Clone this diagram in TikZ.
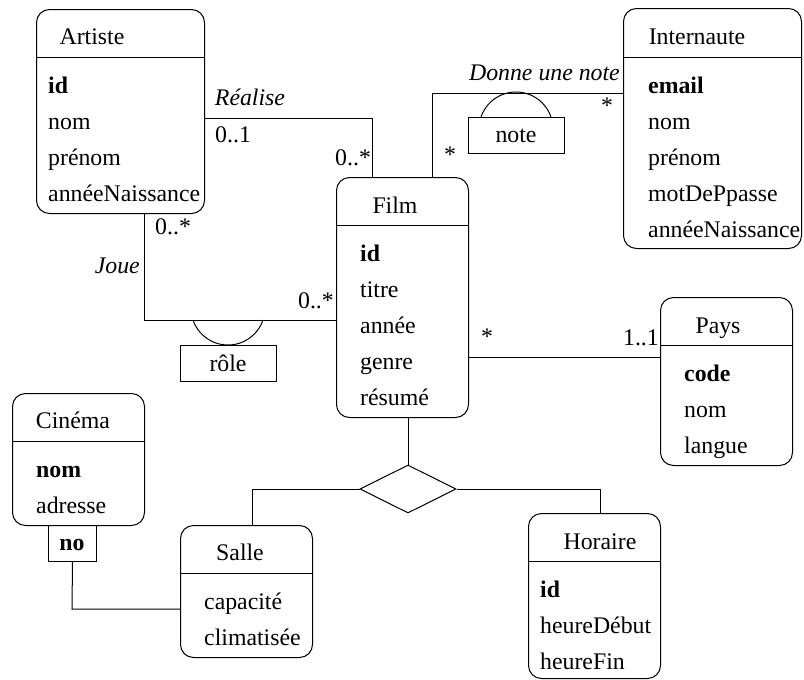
\documentclass[tikz,border=0pt]{standalone}
\usepackage{fontspec}
\setmainfont{Liberation Serif}
\newfontfamily\diagfont{Liberation Serif}
\usetikzlibrary{shapes.geometric}

\tikzset{
  ent/.style={draw, rounded corners=13pt, line width=1pt, inner sep=0pt, anchor=north west},
  box/.style={draw, line width=1pt, inner sep=0pt, anchor=north west},
  lnk/.style={line width=1pt},
  ttl/.style={anchor=base, inner sep=0pt},
  att/.style={anchor=base west, inner sep=0pt},
  lbl/.style={inner sep=0pt},
  rel/.style={anchor=base, inner sep=0pt, font=\diagfont\fontsize{23.8}{28}\selectfont\itshape},
}

\begin{document}
\begin{tikzpicture}[x=1pt, y=-1pt, font=\diagfont\fontsize{23.8}{28}\selectfont]
\useasboundingbox (0,0) rectangle (804,680);

% ---------- Artiste ----------
\node[ent, minimum width=168pt, minimum height=204pt] (artiste) at (36,9) {};
\draw[lnk] (36,57) -- (204,57);
\node[ttl] (artisteT) at (92,45) {Artiste};
\node[att] (artiste1) at (48,93) {\textbf{id}};
\node[att] (artiste2) at (48,129) {nom};
\node[att] (artiste3) at (48,165) {prénom};
\node[att] (artiste4) at (48,201) {annéeNaissance};

% ---------- Internaute ----------
\node[ent, minimum width=178pt, minimum height=240pt] (internaute) at (623,8) {};
\draw[lnk] (623,57) -- (801,57);
\node[ttl] (internauteT) at (697,45) {Internaute};
\node[att] (internaute1) at (648,93) {\textbf{email}};
\node[att] (internaute2) at (648,129) {nom};
\node[att] (internaute3) at (648,165) {prénom};
\node[att] (internaute4) at (648,201) {motDePpasse};
\node[att] (internaute5) at (648,237) {annéeNaissance};

% ---------- Film ----------
\node[ent, minimum width=132pt, minimum height=240pt] (film) at (336,177) {};
\draw[lnk] (336,225) -- (468,225);
\node[ttl] (filmT) at (395,213) {Film};
\node[att] (film1) at (360,261) {\textbf{id}};
\node[att] (film2) at (360,297) {titre};
\node[att] (film3) at (360,333) {année};
\node[att] (film4) at (360,369) {genre};
\node[att] (film5) at (360,405) {résumé};

% ---------- Pays ----------
\node[ent, minimum width=132pt, minimum height=168pt] (pays) at (660,297) {};
\draw[lnk] (660,345) -- (792,345);
\node[ttl] (paysT) at (718,333) {Pays};
\node[att] (pays1) at (684,381) {\textbf{code}};
\node[att] (pays2) at (684,417) {nom};
\node[att] (pays3) at (684,453) {langue};

% ---------- Cinéma ----------
\node[ent, minimum width=132pt, minimum height=132pt] (cinema) at (12,393) {};
\draw[lnk] (12,441) -- (144,441);
\node[ttl] (cinemaT) at (73,428) {Cinéma};
\node[att] (cinema1) at (36,477) {\textbf{nom}};
\node[att] (cinema2) at (36,513) {adresse};
\node[box, minimum width=48pt, minimum height=36pt] (no) at (48,525) {};
\node[ttl] (noT) at (72,550) {\textbf{no}};

% ---------- Salle ----------
\node[ent, minimum width=132pt, minimum height=132pt] (salle) at (180,525) {};
\draw[lnk] (180,573) -- (312,573);
\node[ttl] (salleT) at (240,560) {Salle};
\node[att] (salle1) at (204,609) {capacité};
\node[att] (salle2) at (204,645) {climatisée};

% ---------- Horaire ----------
\node[ent, minimum width=132pt, minimum height=165pt] (horaire) at (528,513) {};
\draw[lnk] (528,561) -- (660,561);
\node[ttl] (horaireT) at (600,549) {Horaire};
\node[att] (horaire1) at (540,597) {\textbf{id}};
\node[att] (horaire2) at (540,633) {heureDébut};
\node[att] (horaire3) at (540,669) {heureFin};

% ---------- ternary association ----------
\node[diamond, draw, line width=1pt, inner sep=0pt, minimum width=96pt, minimum height=48pt, aspect=2] (tern) at (408,489) {};
\draw[lnk] (film.south -| tern.north) -- (tern.north);
\draw[lnk] (tern.west) -- (252,489) -- (salle.north -| 252,0);
\draw[lnk] (tern.east) -- (600,489) -- (horaire.north -| 600,0);

% ---------- Réalise ----------
\coordinate (realise) at (372,118);
\draw[lnk] (artiste.east |- realise) -- (realise) -- (film.north -| realise);
\node[rel] (realiseL) at (250,105) {Réalise};
\node[att] (realiseA) at (215,142) {0..1};
\node[att] (realiseB) at (335,165) {0..*};

% ---------- Joue ----------
\coordinate (joue) at (144,320);
\draw[lnk] (artiste.south -| joue) -- (joue) -- (film.west |- joue);
\node[rel, anchor=base east] (joueL) at (140,273) {Joue};
\node[att] (joueA) at (155,234) {0..*};
\node[att, anchor=base east] (joueB) at (334,308) {0..*};
\node[box, minimum width=96pt, minimum height=36pt] (role) at (180,345) {};
\node[ttl] (roleT) at (228,371) {rôle};
\draw[lnk] (193,320) arc[start angle=161.1, end angle=18.9, radius=37];

% ---------- Donne une note ----------
\coordinate (donne) at (432,93);
\draw[lnk] (internaute.west |- donne) -- (donne) -- (film.north -| donne);
\node[rel, anchor=base east] (donneL) at (620,80) {Donne une note};
\node[lbl] (donneA) at (607,106) {*};
\node[lbl] (donneB) at (450,155) {*};
\node[box, minimum width=96pt, minimum height=36pt] (note) at (468,117) {};
\node[ttl] (noteT) at (516,142) {note};
\draw[lnk] (481,117) arc[start angle=198.9, end angle=341.1, radius=37];

% ---------- Film -- Pays ----------
\coordinate (fp) at (468,357);
\draw[lnk] (film.east |- fp) -- (pays.west |- fp);
\node[lbl] (fpA) at (487,337) {*};
\node[att, anchor=base east] (fpB) at (659,345) {1..1};

% ---------- Cinéma -- Salle ----------
\coordinate (cs) at (72,609);
\draw[lnk] (no.south) -- (cs) -- (salle.west |- cs);
\end{tikzpicture}
\end{document}
